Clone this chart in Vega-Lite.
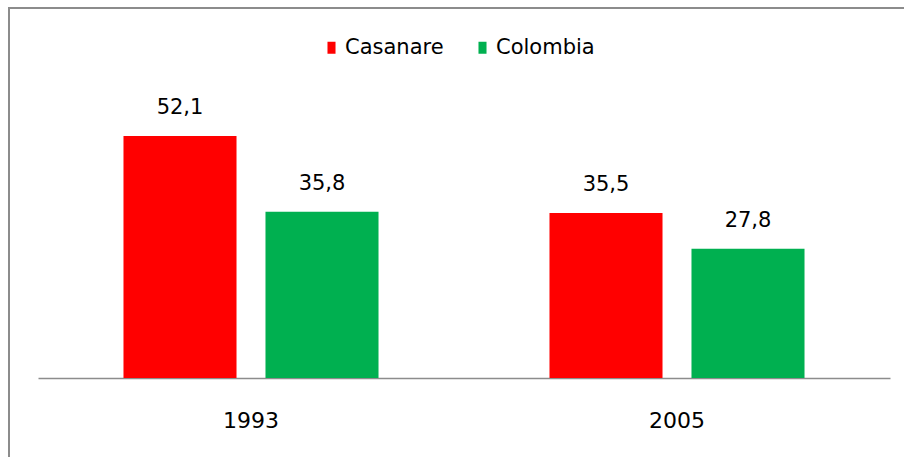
{
  "$schema": "https://vega.github.io/schema/vega-lite/v6.json",
  "autosize": "none",
  "width": 920,
  "height": 460,
  "padding": {"left": 9, "top": 8, "right": 0, "bottom": 0},
  "background": "white",
  "config": {
    "view": {"stroke": "#8c8c8c", "strokeWidth": 2},
    "font": "DejaVu Sans",
    "locale": {"number": {"decimal": ",", "thousands": ".", "grouping": [3], "currency": ["$", ""]}}
  },
  "data": {"values": [
    {"year": "1993", "region": "Casanare", "value": 52.1},
    {"year": "1993", "region": "Colombia", "value": 35.8},
    {"year": "2005", "region": "Casanare", "value": 35.5},
    {"year": "2005", "region": "Colombia", "value": 27.8}
  ]},
  "encoding": {
    "x": {"field": "year", "type": "nominal",
      "scale": {"range": [29, 881], "paddingInner": 0, "paddingOuter": 0},
      "axis": {"title": null, "labelAngle": 0, "ticks": false, "offset": -90, "labelPadding": 32,
        "labelFontSize": 22, "labelColor": "#000", "labelFont": "DejaVu Sans", "domainColor": "#8c8c8c", "domainWidth": 1.5, "grid": false}},
    "xOffset": {"field": "region", "type": "nominal",
      "scale": {"paddingInner": 0.204, "paddingOuter": 0.602}},
    "y": {"field": "value", "type": "quantitative",
      "scale": {"domain": [0, 62], "range": [370, 82], "nice": false},
      "axis": null}
  },
  "layer": [
    {"mark": {"type": "bar"},
     "encoding": {"color": {"field": "region", "type": "nominal",
       "scale": {"domain": ["Casanare", "Colombia"], "range": ["#ff0000", "#00b050"]},
       "legend": {"title": null, "orient": "none", "legendX": 312, "legendY": 29, "direction": "horizontal",
         "symbolType": "M-0.67,-1H0.67V1H-0.67Z", "symbolSize": 144, "symbolStrokeWidth": 0, "labelFontSize": 21, "labelFont": "DejaVu Sans", "labelColor": "#000",
         "columnPadding": 28, "labelOffset": 3}}}},
    {"mark": {"type": "text", "dy": -18, "baseline": "bottom", "fontSize": 21, "font": "DejaVu Sans", "color": "#000"},
     "encoding": {"text": {"field": "value", "type": "quantitative", "format": ".1f"}}}
  ]
}
